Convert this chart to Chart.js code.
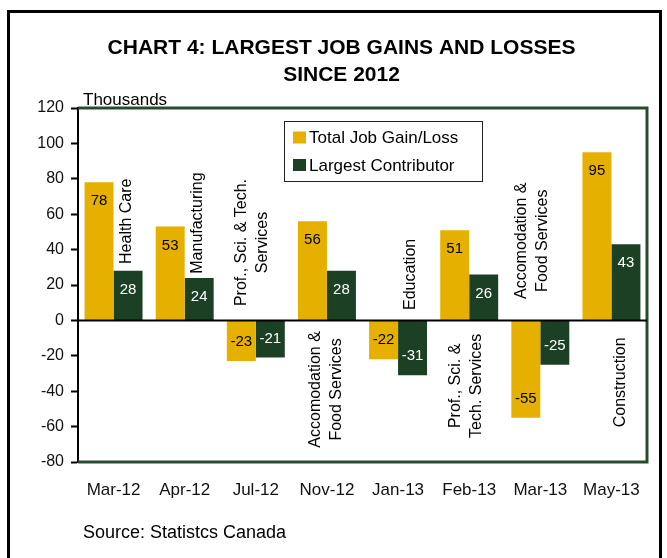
<!DOCTYPE html>
<html>
<head>
<meta charset="utf-8">
<script src="https://cdn.jsdelivr.net/npm/chart.js@4.4.1/dist/chart.umd.min.js"></script>
<style>
  html, body { margin: 0; padding: 0; background: #fff; overflow: hidden; }
  #wrap { position: relative; width: 667px; height: 558px; }
  #frame { position: absolute; left: 7px; top: 10px; width: 655px; height: 620px; border: 3px solid #000; box-sizing: border-box; }
  #chart { position: absolute; left: 0; top: 0; }
</style>
</head>
<body>
<div id="wrap">
  <div id="frame"></div>
  <canvas id="chart" width="667" height="558"></canvas>
</div>
<script>
// Chart 4: largest monthly job gains and losses since 2012 (thousands),
// with the industry that contributed most in each month.

const months = ["Mar-12", "Apr-12", "Jul-12", "Nov-12", "Jan-13", "Feb-13", "Mar-13", "May-13"];
const totalChange = [78, 53, -23, 56, -22, 51, -55, 95];
const topContributor = [28, 24, -21, 28, -31, 26, -25, 43];
const contributorNames = [
  ["Health Care"],
  ["Manufacturing"],
  ["Prof., Sci. & Tech.", "Services"],
  ["Accomodation &", "Food Services"],
  ["Education"],
  ["Prof., Sci. &", "Tech. Services"],
  ["Accomodation &", "Food Services"],
  ["Construction"],
];
const yMin = -80, yMax = 120, yStep = 20;

const FONT = '"Liberation Sans", Arial, Helvetica, sans-serif';
const GOLD = "#E6B000";
const GREEN = "#1B4024";
const FRAME = "#2A4A30";

Chart.defaults.font.family = FONT;
Chart.defaults.color = "#000";

// frame, zero line, value labels, industry notes, legend and the texts round the plot
const decor = {
  id: "decor",
  beforeDatasetsDraw(chart) {
    const { ctx, chartArea: a } = chart;
    ctx.save();
    ctx.strokeStyle = FRAME;
    ctx.lineWidth = 3;
    ctx.beginPath();
    ctx.moveTo(a.left, a.top);
    ctx.lineTo(a.right, a.top);
    ctx.lineTo(a.right, a.bottom);
    ctx.lineTo(a.left, a.bottom);
    ctx.stroke();
    ctx.restore();
  },
  afterDatasetsDraw(chart, args, opts) {
    const { ctx, chartArea: a, scales } = chart;
    const y0 = scales.y.getPixelForValue(0);
    ctx.save();
    ctx.strokeStyle = "#000";
    ctx.lineWidth = 2;
    ctx.beginPath();
    ctx.moveTo(a.left, y0);
    ctx.lineTo(a.right, y0);
    ctx.stroke();

    // values inside the bar ends
    ctx.font = `15px ${FONT}`;
    ctx.textAlign = "center";
    ctx.textBaseline = "middle";
    chart.data.datasets.forEach((ds, i) => {
      ctx.fillStyle = ds.labelColor;
      chart.getDatasetMeta(i).data.forEach((bar, j) => {
        const v = ds.data[j];
        ctx.fillText(String(v), bar.x, v >= 0 ? bar.y + 19 : bar.y - 19);
      });
    });

    // rotated industry names
    ctx.font = `16px ${FONT}`;
    ctx.fillStyle = "#000";
    contributorNames.forEach((lines, j) => {
      const x = scales.x.getPixelForValue(j) + opts.noteDx[j];
      const y = scales.y.getPixelForValue(opts.noteAt[j]);
      ctx.save();
      ctx.translate(x, y);
      ctx.rotate(-Math.PI / 2);
      lines.forEach((t, k) => ctx.fillText(t, 0, (k - (lines.length - 1) / 2) * 21));
      ctx.restore();
    });

    // legend box
    const lx = a.left + 206, ly = a.top + 13;
    ctx.fillStyle = "#fff";
    ctx.fillRect(lx, ly, 198, 60);
    ctx.strokeStyle = "#222";
    ctx.lineWidth = 1;
    ctx.strokeRect(lx + 0.5, ly + 0.5, 198, 60);
    ctx.font = `17px ${FONT}`;
    ctx.textAlign = "left";
    chart.data.datasets.forEach((ds, i) => {
      const cy = ly + 16.5 + i * 27.5;
      ctx.fillStyle = ds.backgroundColor;
      ctx.fillRect(lx + 9, cy - 6, 13, 12);
      ctx.fillStyle = "#000";
      ctx.fillText(ds.label, lx + 25, cy + 1);
    });
    ctx.restore();
  },
  afterDraw(chart) {
    const { ctx, chartArea: a } = chart;
    ctx.save();
    ctx.fillStyle = "#000";
    ctx.textBaseline = "alphabetic";
    ctx.textAlign = "center";
    ctx.font = `bold 21px ${FONT}`;
    ctx.fillText("CHART 4: LARGEST JOB GAINS AND LOSSES", 341.5, 54);
    ctx.fillText("SINCE 2012", 341.5, 81);
    ctx.textAlign = "left";
    ctx.font = `17px ${FONT}`;
    ctx.fillText("Thousands", a.left + 5, a.top - 3);
    ctx.font = `18px ${FONT}`;
    ctx.fillText("Source: Statistcs Canada", 83, 538);
    ctx.restore();
  },
};

new Chart(document.getElementById("chart"), {
  type: "bar",
  data: {
    labels: months,
    datasets: [
      { label: "Total Job Gain/Loss", data: totalChange, backgroundColor: GOLD, labelColor: "#000" },
      { label: "Largest Contributor", data: topContributor, backgroundColor: GREEN, labelColor: "#fff" },
    ],
  },
  options: {
    responsive: false,
    animation: false,
    layout: { padding: { top: 108, right: 20, left: 0, bottom: 0 } },
    datasets: { bar: { categoryPercentage: 0.815, barPercentage: 1, borderWidth: 0 } },
    plugins: {
      legend: { display: false },
      tooltip: { enabled: false },
      decor: {
        noteAt: [56, 55, 44, -39, 26, -37, 45, -35],
        noteDx: [13.5, 12.5, -4, -1, 13, -3, -8, 9],
      },
    },
    scales: {
      x: {
        grid: { display: false },
        border: { display: false },
        ticks: { font: { size: 17 }, color: "#111", padding: 10, maxRotation: 0 },
        afterFit: (s) => { s.height = 96; },
      },
      y: {
        min: yMin,
        max: yMax,
        ticks: { stepSize: yStep, font: { size: 16 }, color: "#111", padding: 7 },
        grid: { display: true, drawOnChartArea: false, drawTicks: true, tickLength: 7, tickWidth: 2, color: "#000" },
        border: { display: true, color: "#000", width: 2 },
        afterFit: (s) => { s.width = 78; },
      },
    },
  },
  plugins: [decor],
});
</script>
</body>
</html>
